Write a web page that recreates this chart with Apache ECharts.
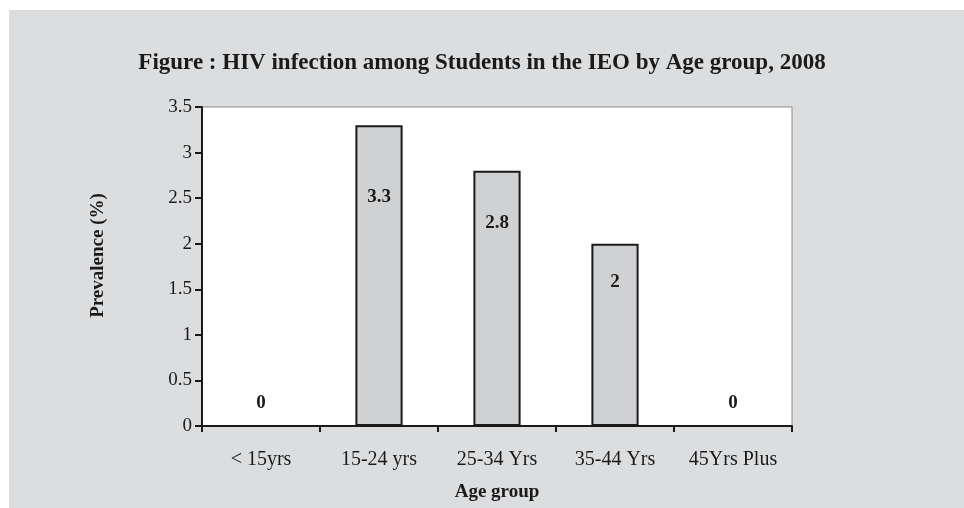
<!DOCTYPE html>
<html>
<head>
<meta charset="utf-8">
<script src="https://cdn.jsdelivr.net/npm/echarts@6/dist/echarts.min.js"></script>
<style>
  html, body { margin: 0; padding: 0; background: #ffffff; }
  #frame { position: absolute; left: 9px; top: 10px; width: 955px; height: 498px; background: #dcdddf; }
  #chart { position: absolute; left: 0; top: 0; width: 964px; height: 508px; }
</style>
</head>
<body>
<div id="frame"></div>
<div id="chart"></div>
<script>
const titleText = 'Figure : HIV infection among Students in the IEO by Age group, 2008';
const categories = ['< 15yrs', '15-24 yrs', '25-34 Yrs', '35-44 Yrs', '45Yrs Plus'];
const prevalence = [0, 3.3, 2.8, 2, 0];
const yTicks = { min: 0, max: 3.5, interval: 0.5 };
const yAxisName = 'Prevalence (%)';
const xAxisName = 'Age group';
// label drop below bar top (style only)
const labelDrop = [0, 62, 43, 29, 0];

const serif = '"Liberation Serif", "DejaVu Serif", serif';

const barData = prevalence.map((v, i) => {
  if (v === 0) {
    return { value: v, label: { position: 'top', distance: 12 } };
  }
  return { value: v, label: { position: 'insideTop', distance: labelDrop[i] } };
});

const chart = echarts.init(document.getElementById('chart'), null, { renderer: 'canvas' });
chart.setOption({
  animation: false,
  backgroundColor: 'transparent',
  title: {
    text: titleText,
    left: 'center',
    top: 47,
    textStyle: { fontFamily: serif, fontWeight: 'bold', fontSize: 23, color: '#1a1a1a' }
  },
  grid: {
    left: 202, right: 172, top: 107, bottom: 82,
    show: true, backgroundColor: '#ffffff', borderColor: '#8a8a8a', borderWidth: 1
  },
  xAxis: {
    type: 'category',
    data: categories,
    name: xAxisName,
    nameLocation: 'middle',
    nameGap: 57,
    nameTextStyle: { fontFamily: serif, fontWeight: 'bold', fontSize: 19, color: '#1a1a1a' },
    axisLine: { show: true, lineStyle: { color: '#1a1a1a', width: 2 } },
    axisTick: { show: true, alignWithLabel: false, length: 6, lineStyle: { color: '#1a1a1a', width: 2 } },
    axisLabel: { fontFamily: serif, fontSize: 20, color: '#1a1a1a', margin: 24 },
    splitLine: { show: false }
  },
  yAxis: {
    type: 'value',
    min: yTicks.min, max: yTicks.max, interval: yTicks.interval,
    name: yAxisName,
    nameLocation: 'middle',
    nameGap: 94,
    nameRotate: 90,
    nameTextStyle: { fontFamily: serif, fontWeight: 'bold', fontSize: 19, color: '#1a1a1a', padding: [0, 0, 0, 22] },
    axisLine: { show: true, lineStyle: { color: '#1a1a1a', width: 2 } },
    axisTick: { show: true, length: 7, lineStyle: { color: '#1a1a1a', width: 2 } },
    axisLabel: { fontFamily: serif, fontSize: 19, color: '#1a1a1a', margin: 10 },
    splitLine: { show: false }
  },
  series: [{
    type: 'bar',
    data: barData,
    barWidth: '40%',
    itemStyle: { color: '#d0d1d3', borderColor: '#1a1a1a', borderWidth: 2 },
    label: {
      show: true,
      fontFamily: serif, fontWeight: 'bold', fontSize: 19, color: '#1a1a1a'
    }
  }]
});
</script>
</body>
</html>
